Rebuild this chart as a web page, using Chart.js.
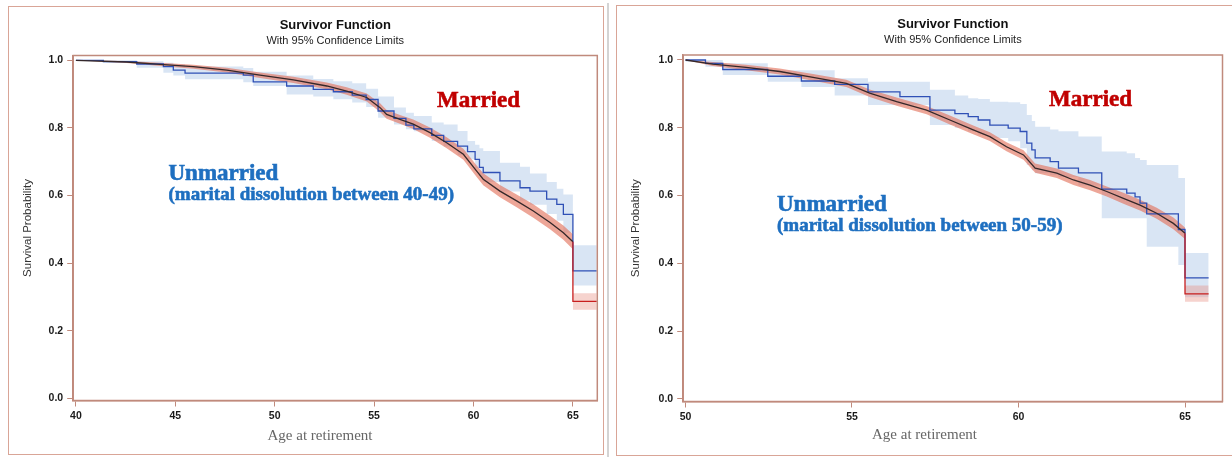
<!DOCTYPE html>
<html><head><meta charset="utf-8">
<script src="https://cdn.jsdelivr.net/npm/chart.js@4.4.1/dist/chart.umd.min.js"></script>
<style>
html,body{margin:0;padding:0;background:#fff;}
body{width:1232px;height:457px;position:relative;overflow:hidden;}
.frame{position:absolute;box-sizing:border-box;}
canvas{position:absolute;top:0;}
</style></head><body>
<div class="frame" style="left:8px;top:6px;width:596px;height:449px;border:1.5px solid #d9a597;"></div>
<div class="frame" style="left:607px;top:3px;width:2px;height:454px;background:#d4d4d4;"></div>
<div class="frame" style="left:616px;top:5px;width:630px;height:451px;border:1.5px solid #d9a597;"></div>
<canvas id="c1" width="612" height="457" style="left:0"></canvas>
<canvas id="c2" width="620" height="457" style="left:612px"></canvas>
<script>
// ---------- shared tick labels ----------
const yTicks = [0, 0.2, 0.4, 0.6, 0.8, 1.0];
const xTicksLeft = [40, 45, 50, 55, 60, 65];
const xTicksRight = [50, 55, 60, 65];

// ---------- LEFT panel (dissolution 40-49) ----------
const leftMarriedAge = [40, 42.56, 44.23, 45.91, 47.59, 49.26, 50.94, 52.62, 53.62, 54.63, 55.30, 55.63, 56.30, 56.97, 57.81, 58.65, 59.49, 60.16, 60.49, 61.33, 62.17, 63.01, 63.85, 64.52, 65.0, 65.0, 66.2];
const leftMarriedSurv = [1.0, 0.995, 0.988, 0.981, 0.971, 0.956, 0.942, 0.924, 0.909, 0.890, 0.860, 0.840, 0.825, 0.811, 0.786, 0.756, 0.722, 0.672, 0.648, 0.613, 0.584, 0.554, 0.520, 0.490, 0.463, 0.287, 0.287];
const leftMarriedUpper = [1.0, 0.998, 0.993, 0.987, 0.978, 0.964, 0.951, 0.934, 0.920, 0.902, 0.873, 0.853, 0.838, 0.825, 0.801, 0.772, 0.738, 0.689, 0.666, 0.631, 0.603, 0.574, 0.540, 0.511, 0.485, 0.311, 0.311];
const leftMarriedLower = [1.0, 0.992, 0.983, 0.975, 0.964, 0.948, 0.933, 0.914, 0.898, 0.878, 0.847, 0.827, 0.812, 0.797, 0.771, 0.740, 0.706, 0.655, 0.630, 0.595, 0.565, 0.534, 0.500, 0.469, 0.441, 0.262, 0.262];

const leftUnmarAge = [40, 41.38, 43.06, 44.40, 44.90, 45.49, 48.42, 48.92, 50.60, 51.94, 52.95, 53.9, 54.6, 55.2, 56.0, 56.6, 57.0, 57.9, 58.5, 59.2, 59.7, 60.08, 60.3, 60.49, 61.33, 62.34, 62.84, 63.68, 64.19, 64.52, 65.0, 66.2];
const leftUnmarSurv = [1.0, 0.996, 0.989, 0.981, 0.971, 0.962, 0.956, 0.936, 0.924, 0.914, 0.907, 0.897, 0.884, 0.850, 0.828, 0.808, 0.797, 0.778, 0.760, 0.746, 0.730, 0.707, 0.683, 0.668, 0.643, 0.623, 0.613, 0.589, 0.574, 0.544, 0.377, 0.377];
const leftUnmarUpper = [1.0, 1.0, 0.997, 0.993, 0.988, 0.982, 0.977, 0.966, 0.955, 0.945, 0.938, 0.932, 0.916, 0.893, 0.860, 0.845, 0.835, 0.816, 0.810, 0.791, 0.761, 0.750, 0.740, 0.732, 0.697, 0.685, 0.665, 0.640, 0.620, 0.603, 0.453, 0.453];
const leftUnmarLower = [1.0, 0.993, 0.978, 0.963, 0.955, 0.944, 0.935, 0.924, 0.899, 0.893, 0.885, 0.875, 0.862, 0.830, 0.810, 0.796, 0.790, 0.761, 0.745, 0.720, 0.707, 0.680, 0.655, 0.640, 0.612, 0.585, 0.573, 0.545, 0.525, 0.490, 0.334, 0.334];

// ---------- RIGHT panel (dissolution 50-59) ----------
const rightMarriedAge = [50, 50.82, 51.82, 52.83, 53.83, 54.83, 55.53, 56.34, 57.24, 57.94, 58.64, 59.14, 59.64, 60.15, 60.5, 61.15, 61.65, 62.15, 62.65, 63.15, 63.65, 64.15, 64.65, 65.0, 65.0, 65.71];
const rightMarriedSurv = [1.0, 0.988, 0.978, 0.966, 0.949, 0.931, 0.902, 0.877, 0.852, 0.823, 0.794, 0.774, 0.744, 0.720, 0.681, 0.666, 0.646, 0.631, 0.612, 0.592, 0.572, 0.548, 0.518, 0.489, 0.310, 0.310];
const rightMarriedUpper = [1.0, 0.994, 0.986, 0.975, 0.959, 0.942, 0.913, 0.889, 0.864, 0.836, 0.807, 0.787, 0.757, 0.734, 0.695, 0.680, 0.661, 0.646, 0.627, 0.608, 0.588, 0.564, 0.535, 0.506, 0.335, 0.335];
const rightMarriedLower = [1.0, 0.982, 0.970, 0.957, 0.939, 0.920, 0.891, 0.865, 0.840, 0.810, 0.781, 0.761, 0.731, 0.706, 0.667, 0.652, 0.631, 0.616, 0.597, 0.576, 0.556, 0.532, 0.501, 0.472, 0.287, 0.287];

const rightUnmarAge = [50, 50.6, 51.12, 52.47, 53.48, 54.48, 55.48, 56.44, 57.34, 58.09, 58.49, 58.79, 59.14, 59.69, 60.05, 60.25, 60.4, 60.5, 60.95, 61.2, 61.8, 62.5, 63.25, 63.5, 63.65, 63.85, 64.8, 65.0, 65.71];
const rightUnmarSurv = [1.0, 0.990, 0.972, 0.952, 0.938, 0.928, 0.906, 0.892, 0.852, 0.842, 0.833, 0.823, 0.808, 0.799, 0.789, 0.755, 0.735, 0.711, 0.700, 0.681, 0.667, 0.619, 0.607, 0.596, 0.578, 0.546, 0.500, 0.357, 0.357];
const rightUnmarUpper = [1.0, 1.0, 0.990, 0.970, 0.970, 0.946, 0.936, 0.936, 0.912, 0.895, 0.887, 0.885, 0.877, 0.875, 0.870, 0.838, 0.820, 0.803, 0.795, 0.790, 0.774, 0.730, 0.725, 0.711, 0.705, 0.690, 0.652, 0.431, 0.431];
const rightUnmarLower = [0.995, 0.980, 0.956, 0.936, 0.920, 0.895, 0.867, 0.867, 0.808, 0.800, 0.790, 0.780, 0.770, 0.760, 0.740, 0.690, 0.675, 0.666, 0.660, 0.655, 0.630, 0.533, 0.533, 0.533, 0.533, 0.449, 0.395, 0.300, 0.300];

// ---------- styles ----------
const DARK = '#35282a', RED = '#c81e1e', BLUE = '#2f50b6';
const BLUE_BAND = 'rgba(176,200,232,0.48)';
const RED_BAND = 'rgba(226,112,88,0.62)';
const RED_BAND_LIGHT = 'rgba(232,140,125,0.38)';
const AXIS = '#c08a7c';

function pts(xs, ys) { return xs.map((x, i) => ({x: x, y: ys[i]})); }

function heavyText(ctx, s, x, y, color) {
  ctx.fillStyle = color; ctx.strokeStyle = color; ctx.lineWidth = 0.6;
  ctx.fillText(s, x, y); ctx.strokeText(s, x, y);
}

function overlay(t) {
  return {
    id: 'overlay' + t.id,
    afterDraw(chart) {
      const ctx = chart.ctx, a = chart.chartArea;
      ctx.save();
      ctx.strokeStyle = AXIS; ctx.lineWidth = 1.5;
      ctx.strokeRect(a.left, a.top, a.right - a.left, a.bottom - a.top);
      const cx = (a.left + a.right) / 2;
      ctx.textAlign = 'center'; ctx.textBaseline = 'middle';
      ctx.fillStyle = '#111';
      ctx.font = 'bold 13px "Liberation Sans", Arial, sans-serif';
      ctx.fillText('Survivor Function', cx, t.titleY);
      ctx.fillStyle = '#222';
      ctx.font = '11px "Liberation Sans", Arial, sans-serif';
      ctx.fillText('With 95% Confidence Limits', cx, t.subY);
      // y-axis title
      ctx.save();
      ctx.translate(t.yTitleX, (a.top + a.bottom) / 2);
      ctx.rotate(-Math.PI / 2);
      ctx.fillStyle = '#333';
      ctx.font = '11.5px "Liberation Sans", Arial, sans-serif';
      ctx.fillText('Survival Probability', 0, 0);
      ctx.restore();
      // x-axis title
      ctx.fillStyle = '#666';
      ctx.font = '15px "Liberation Serif", serif';
      ctx.fillText('Age at retirement', t.xTitleX, t.xTitleY);
      // annotations
      ctx.textAlign = 'left'; ctx.textBaseline = 'alphabetic';
      ctx.font = 'bold 23px "Liberation Serif", serif';
      heavyText(ctx, 'Married', t.marX, t.marY, '#c00000');
      heavyText(ctx, 'Unmarried', t.unX, t.unY, '#1e6fc0');
      ctx.font = 'bold 19px "Liberation Serif", serif';
      heavyText(ctx, t.sub, t.unX, t.subBase, '#1e6fc0');
      ctx.restore();
    }
  };
}

function makeChart(id, d, s) {
  const datasets = [
    {data: pts(d.mAge, d.mSurv), borderColor: DARK, borderWidth: 1.3, pointRadius: 0, tension: 0, fill: false, order: 0,
     segment: {borderColor: c => c.p0.parsed.x >= 65 ? RED : DARK}},
    {data: pts(d.uAge, d.uSurv), borderColor: BLUE, borderWidth: 1.3, pointRadius: 0, stepped: true, fill: false, order: 1},
    {data: pts(d.mAge, d.mUp), borderWidth: 0, pointRadius: 0, tension: 0, backgroundColor: RED_BAND, fill: {target: 3}, order: 2,
     segment: {backgroundColor: c => c.p0.parsed.x >= 65 ? RED_BAND_LIGHT : RED_BAND}},
    {data: pts(d.mAge, d.mLo), borderWidth: 0, pointRadius: 0, tension: 0, fill: false, order: 3},
    {data: pts(d.uAge, d.uUp), borderWidth: 0, pointRadius: 0, stepped: true, backgroundColor: BLUE_BAND, fill: {target: 5}, order: 4},
    {data: pts(d.uAge, d.uLo), borderWidth: 0, pointRadius: 0, stepped: true, fill: false, order: 5}
  ];
  const tickFont = {family: '"Liberation Sans", Arial, sans-serif', size: 10.5, weight: 'bold'};
  return new Chart(document.getElementById(id), {
    type: 'line',
    data: {datasets: datasets},
    options: {
      responsive: false, animation: false, devicePixelRatio: 1,
      layout: {padding: {left: 0, top: s.top, right: s.right, bottom: s.bottom}},
      plugins: {legend: {display: false}, tooltip: {enabled: false}, title: {display: false}},
      scales: {
        x: {type: 'linear', min: s.xmin, max: s.xmax,
            afterBuildTicks: sc => { sc.ticks = d.xTicks.map(v => ({value: v})); },
            afterFit: sc => { sc.height = 30; },
            ticks: {font: tickFont, color: '#1a1a1a', padding: 3, autoSkip: false, maxRotation: 0, callback: v => String(v)},
            grid: {display: true, drawOnChartArea: false, drawTicks: true, tickLength: 6, color: AXIS},
            border: {display: true, color: AXIS, width: 1.5}},
        y: {type: 'linear', min: s.ymin, max: s.ymax,
            afterBuildTicks: sc => { sc.ticks = yTicks.map(v => ({value: v})); },
            afterFit: sc => { sc.width = s.yw; },
            ticks: {font: tickFont, color: '#1a1a1a', padding: 4, autoSkip: false, callback: v => Number(v).toFixed(1)},
            grid: {display: true, drawOnChartArea: false, drawTicks: true, tickLength: 6, color: AXIS},
            border: {display: true, color: AXIS, width: 1.5}}
      }
    },
    plugins: [overlay(s.text)]
  });
}

makeChart('c1', {
  mAge: leftMarriedAge, mSurv: leftMarriedSurv, mUp: leftMarriedUpper, mLo: leftMarriedLower,
  uAge: leftUnmarAge, uSurv: leftUnmarSurv, uUp: leftUnmarUpper, uLo: leftUnmarLower, xTicks: xTicksLeft
}, {
  top: 55.5, right: 14.7, bottom: 26.5, yw: 73.2,
  xmin: 39.864, xmax: 66.227, ymin: -0.0065, ymax: 1.0142,
  text: {id: 'L', titleY: 25.5, subY: 40.5, yTitleX: 28, xTitleX: 320, xTitleY: 436,
         marX: 437, marY: 106.5, unX: 168.5, unY: 180, subBase: 200,
         sub: '(marital dissolution between 40-49)'}
});

makeChart('c2', {
  mAge: rightMarriedAge, mSurv: rightMarriedSurv, mUp: rightMarriedUpper, mLo: rightMarriedLower,
  uAge: rightUnmarAge, uSurv: rightUnmarSurv, uUp: rightUnmarUpper, uLo: rightUnmarLower, xTicks: xTicksRight
}, {
  top: 55, right: 9.5, bottom: 25.5, yw: 71.2,
  xmin: 49.931, xmax: 66.126, ymin: -0.0074, ymax: 1.0147,
  text: {id: 'R', titleY: 24.5, subY: 39.5, yTitleX: 24, xTitleX: 312.5, xTitleY: 435,
         marX: 437, marY: 106, unX: 165, unY: 210.5, subBase: 230.5,
         sub: '(marital dissolution between 50-59)'}
});
</script>
</body></html>
